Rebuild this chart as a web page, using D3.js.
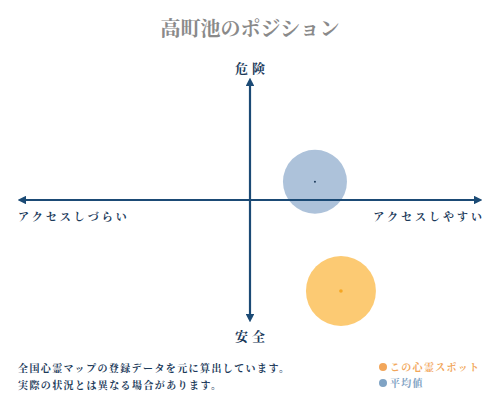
<!DOCTYPE html>
<html><head><meta charset="utf-8">
<script src="https://cdn.jsdelivr.net/npm/d3@7"></script>
<style>
html,body{margin:0;padding:0;background:#fff;}
text{font-family:"Noto Serif CJK JP","Noto Sans CJK JP",serif;}
</style></head>
<body><svg id="c" width="500" height="400"></svg>
<script>
const title = "高町池のポジション";
const axisLabels = {top:"危険", bottom:"安全", left:"アクセスしづらい", right:"アクセスしやすい"};
const seriesNames = ["この心霊スポット","平均値"];
const seriesX = [1.96, 1.4];
const seriesY = [-3.73, 0.75];
const seriesR = [35, 32];
const notes = ["全国心霊マップの登録データを元に算出しています。","実際の状況とは異なる場合があります。"];

const svg = d3.select("#c");
const x = d3.scaleLinear().domain([-5,5]).range([18,482]);
const y = d3.scaleLinear().domain([-5,5]).range([322,78]);
const axisColor = "#1b4a75";

svg.append("text").attr("x",250).attr("y",36).attr("text-anchor","middle")
  .attr("font-size",20).attr("fill","#8a8a8a").attr("font-weight","bold").text(title);

const defs = svg.append("defs");
defs.append("marker").attr("id","ah").attr("viewBox","0 0 10 10").attr("refX",5).attr("refY",5)
 .attr("markerWidth",4).attr("markerHeight",4).attr("orient","auto-start-reverse")
 .append("path").attr("d","M0,0L10,5L0,10z").attr("fill",axisColor);

const colors = ["#fcc76c","#a9bfd8"];
const dotColors = ["#f5a623","#1b3a5a"];
const order = [1,0];
order.forEach(i=>{
  svg.append("circle").attr("cx",x(seriesX[i])).attr("cy",y(seriesY[i])).attr("r",seriesR[i])
    .attr("fill",colors[i]).attr("opacity",0.95);
});

svg.append("line").attr("x1",x(-5)+4).attr("x2",x(5)-4).attr("y1",y(0)).attr("y2",y(0))
 .attr("stroke",axisColor).attr("stroke-width",2.2)
 .attr("marker-start","url(#ah)").attr("marker-end","url(#ah)");
svg.append("line").attr("x1",x(0)).attr("x2",x(0)).attr("y1",y(5)+4).attr("y2",y(-5)-4)
 .attr("stroke",axisColor).attr("stroke-width",2.2)
 .attr("marker-start","url(#ah)").attr("marker-end","url(#ah)");

order.forEach(i=>{
  svg.append("circle").attr("cx",x(seriesX[i])).attr("cy",y(seriesY[i])).attr("r",i===0?1.8:1)
    .attr("fill",dotColors[i]);
});

svg.append("text").attr("x",x(0)+2).attr("y",73).attr("text-anchor","middle").attr("font-size",13)
 .attr("letter-spacing",4).attr("fill","#1b3a5a").attr("font-weight","bold").text(axisLabels.top);
svg.append("text").attr("x",x(0)+2).attr("y",341).attr("text-anchor","middle").attr("font-size",13)
 .attr("letter-spacing",4).attr("fill","#1b3a5a").attr("font-weight","bold").text(axisLabels.bottom);
svg.append("text").attr("x",18).attr("y",221).attr("font-size",11).attr("letter-spacing",3)
 .attr("fill","#1b3a5a").attr("font-weight","bold").text(axisLabels.left);
svg.append("text").attr("x",485).attr("y",221).attr("text-anchor","end").attr("font-size",11).attr("letter-spacing",3)
 .attr("fill","#1b3a5a").attr("font-weight","bold").text(axisLabels.right);

notes.forEach((t,i)=>{
  svg.append("text").attr("x",18).attr("y",372+i*17).attr("font-size",10).attr("letter-spacing",1.4)
   .attr("fill","#1b3a5a").attr("font-weight","bold").text(t);
});

const legCol = ["#f2a65a","#7fa3c4"];
seriesNames.forEach((n,i)=>{
  svg.append("circle").attr("cx",383).attr("cy",367+i*16).attr("r",4).attr("fill",legCol[i]);
  svg.append("text").attr("x",390).attr("y",371+i*16).attr("font-size",10).attr("letter-spacing",1.3)
   .attr("fill",legCol[i]).attr("font-weight","bold").text(n);
});
</script></body></html>
